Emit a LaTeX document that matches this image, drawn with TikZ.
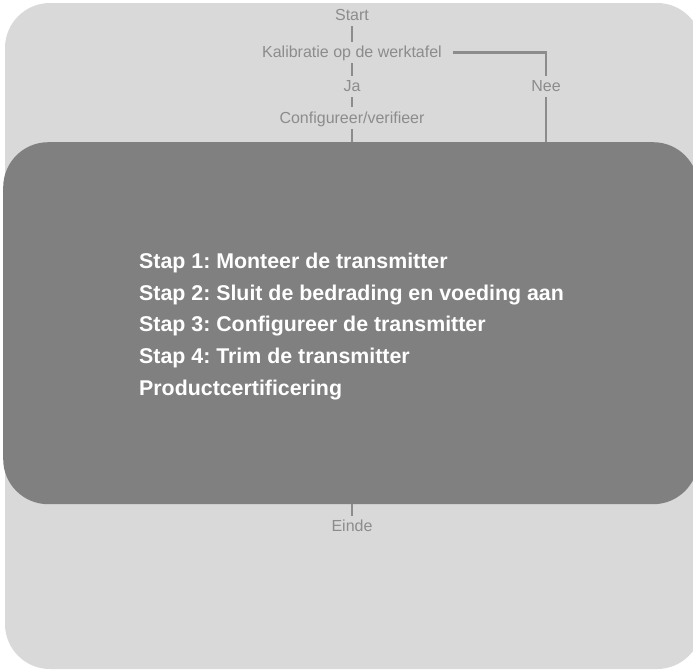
\documentclass[tikz,border=0pt]{standalone}
\usepackage{fontspec}
\setmainfont{Liberation Sans}
\definecolor{bglight}{HTML}{D9D9D9}
\definecolor{boxdark}{HTML}{808080}
\definecolor{flowgray}{HTML}{8C8C8C}
\begin{document}
\frenchspacing
\begin{tikzpicture}[x=1pt,y=-1pt,
  lbl/.style={text=flowgray, font=\fontsize{16}{18}\selectfont, text height=14pt, text depth=4pt, inner xsep=0pt, inner ysep=1.5pt, anchor=base},
  link/.style={draw=flowgray, line width=2.8pt},
  bigbox/.style={fill=boxdark, rounded corners=45pt, minimum width=695pt, minimum height=362pt, anchor=north west, inner sep=0pt},
  steptext/.style={text=white, font=\bfseries\fontsize{21.35}{31.8}\selectfont, align=left, anchor=north west, inner sep=0pt}]
\useasboundingbox (0,0) rectangle (693,670);
\begin{scope}
  \clip (0,0) rectangle (693,670);
  \fill[bglight, rounded corners=45pt] (5,3) rectangle (702,669);
  \node[bigbox] (box) at (3,142) {};
\end{scope}
\node[steptext] (steps) at (139,252.6) {Stap 1: Monteer de transmitter\\Stap 2: Sluit de bedrading en voeding aan\\Stap 3: Configureer de transmitter\\Stap 4: Trim de transmitter\\Productcertificering};
\node[lbl] (start) at (352,20.5) {Start};
\node[lbl] (kal) at (352,57.3) {Kalibratie op de werktafel};
\node[lbl] (ja) at (352,91.7) {Ja};
\node[lbl] (conf) at (352,123) {Configureer/verifieer};
\node[lbl] (nee) at (546,91.7) {Nee};
\node[lbl] (einde) at (352,531.5) {Einde};
\draw[link] (start.south) -- (kal.north);
\draw[link] ([xshift=11pt]kal.east) -| (nee.north);
\draw[link] (kal.south) -- (ja.north);
\draw[link] (ja.south) -- (conf.north);
\draw[link] (conf.south) -- (conf.south |- box.north);
\draw[link] (nee.south) -- (nee.south |- box.north);
\draw[link] (einde.north |- box.south) -- (einde.north);
\end{tikzpicture}
\end{document}
